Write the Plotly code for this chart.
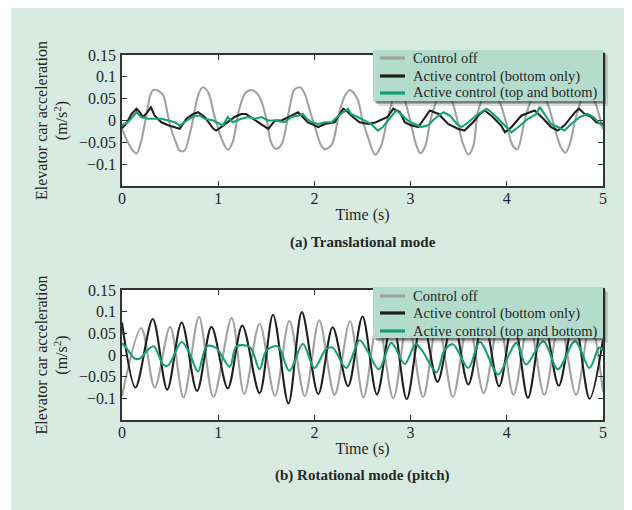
import plotly.graph_objects as go

# page body keeps its default 8 px margin, so the figure is sized to fill the rest of the window
OFF = 8
W, H = 632 - OFF, 510 - OFF

# ---------------- data ----------------
x_ticks = [0, 1, 2, 3, 4, 5]
y_ticks = [0.15, 0.1, 0.05, 0, -0.05, -0.1]
y_tick_text = ["0.15", "0.1", "0.05", "0", "\u22120.05", "\u22120.1"]
series_names = ["Control off", "Active control (bottom only)", "Active control (top and bottom)"]
captions = ["(a) Translational mode", "(b) Rotational mode (pitch)"]
x_title = "Time (s)"
y_title = "Elevator car acceleration<br>(m/s<sup>2</sup>)"

# (a) Translational mode: (time s, acceleration m/s^2)
a_off = [(0, -0.019), (0.05, -0.045), (0.1, -0.065), (0.15, -0.076), (0.19, -0.055), (0.22, -0.027),
         (0.26, 0.02), (0.29, 0.055), (0.32, 0.069), (0.36, 0.07), (0.39, 0.066), (0.43, 0.057),
         (0.47, 0.02), (0.5, -0.011), (0.56, -0.05), (0.6, -0.069), (0.65, -0.069), (0.7, -0.035),
         (0.74, 0.004), (0.79, 0.057), (0.84, 0.076), (0.88, 0.07), (0.91, 0.057), (0.95, 0.02),
         (0.98, -0.004), (1.05, -0.05), (1.1, -0.067), (1.15, -0.05), (1.22, 0.027), (1.29, 0.065),
         (1.36, 0.069), (1.43, 0.054), (1.5, 0.004), (1.55, -0.05), (1.6, -0.065), (1.66, -0.054),
         (1.74, 0.027), (1.79, 0.07), (1.85, 0.076), (1.9, 0.061), (1.95, 0.025), (2.0, -0.011),
         (2.07, -0.057), (2.11, -0.066), (2.18, -0.055), (2.26, 0.019), (2.32, 0.058), (2.37, 0.07),
         (2.45, 0.048), (2.5, 0.0), (2.56, -0.04), (2.63, -0.078), (2.69, -0.06), (2.76, 0.004),
         (2.82, 0.05), (2.88, 0.07), (2.94, 0.045), (3.0, -0.004), (3.05, -0.05), (3.1, -0.075),
         (3.15, -0.06), (3.21, 0.004), (3.28, 0.05), (3.36, 0.07), (3.43, 0.045), (3.49, -0.004),
         (3.54, -0.05), (3.6, -0.078), (3.65, -0.06), (3.7, 0.019), (3.77, 0.06), (3.85, 0.07),
         (3.93, 0.04), (4.0, -0.01), (4.06, -0.057), (4.11, -0.066), (4.19, 0.004), (4.27, 0.055),
         (4.35, 0.07), (4.43, 0.035), (4.5, -0.019), (4.56, -0.06), (4.61, -0.074), (4.66, -0.05),
         (4.71, 0.0), (4.78, 0.05), (4.85, 0.07), (4.92, 0.04), (5.0, -0.02)]

a_bottom = [(0, -0.018), (0.05, -0.005), (0.1, 0.015), (0.13, 0.022), (0.15, 0.027), (0.18, 0.02),
            (0.22, 0.008), (0.26, 0.018), (0.3, 0.03), (0.34, 0.011), (0.41, -0.004), (0.48, -0.011),
            (0.55, -0.015), (0.6, -0.019), (0.67, 0.004), (0.74, 0.015), (0.79, 0.019), (0.86, 0.008),
            (0.95, -0.019), (0.98, -0.023), (1.03, -0.015), (1.1, -0.004), (1.17, 0.008), (1.24, 0.015),
            (1.29, 0.015), (1.36, 0.004), (1.45, -0.008), (1.52, -0.019), (1.59, 0.0), (1.66, 0.0),
            (1.76, 0.011), (1.83, 0.019), (1.88, 0.008), (1.93, -0.004), (2.04, -0.015), (2.11, -0.008),
            (2.21, -0.004), (2.26, 0.015), (2.3, 0.027), (2.35, 0.019), (2.4, 0.008), (2.47, -0.004),
            (2.56, -0.008), (2.64, -0.004), (2.76, 0.008), (2.82, 0.027), (2.89, 0.019), (2.94, -0.004),
            (3.0, -0.011), (3.08, -0.015), (3.16, 0.011), (3.2, 0.023), (3.29, 0.015), (3.39, -0.008),
            (3.49, -0.019), (3.56, -0.023), (3.65, -0.004), (3.72, 0.015), (3.77, 0.023), (3.84, 0.011),
            (3.94, -0.011), (3.98, -0.027), (4.05, -0.015), (4.15, 0.011), (4.24, 0.019), (4.29, 0.023),
            (4.38, 0.004), (4.46, -0.015), (4.53, -0.023), (4.6, -0.011), (4.71, 0.019), (4.75, 0.027),
            (4.81, 0.015), (4.88, 0.008), (4.93, -0.004), (5.0, -0.008)]

a_top_bottom = [(0, -0.011), (0.06, -0.004), (0.11, 0.008), (0.15, 0.019), (0.2, 0.008), (0.27, 0.004),
                (0.34, 0.004), (0.41, 0.004), (0.48, 0.0), (0.55, -0.004), (0.6, -0.012), (0.65, -0.004),
                (0.7, 0.004), (0.76, 0.011), (0.81, 0.011), (0.86, 0.004), (0.95, 0.0), (1.02, -0.008),
                (1.05, -0.011), (1.1, 0.008), (1.15, -0.004), (1.24, 0.004), (1.31, 0.008), (1.38, 0.004),
                (1.45, 0.008), (1.52, 0.0), (1.59, 0.0), (1.69, -0.004), (1.76, 0.008), (1.83, 0.011),
                (1.88, 0.015), (1.92, 0.004), (1.97, -0.004), (2.04, -0.008), (2.11, -0.004), (2.18, -0.004),
                (2.25, 0.011), (2.35, 0.027), (2.38, 0.015), (2.45, 0.008), (2.52, 0.0), (2.59, -0.008),
                (2.66, -0.023), (2.71, -0.015), (2.78, 0.004), (2.85, 0.023), (2.9, 0.015), (2.97, 0.0),
                (3.04, -0.008), (3.11, -0.015), (3.18, -0.011), (3.25, 0.004), (3.34, 0.019), (3.41, 0.011),
                (3.48, -0.008), (3.53, -0.015), (3.6, -0.004), (3.68, 0.011), (3.79, 0.027), (3.84, 0.019),
                (3.91, 0.004), (3.99, -0.015), (4.05, -0.027), (4.12, -0.015), (4.22, 0.004), (4.31, 0.015),
                (4.34, 0.031), (4.39, 0.015), (4.46, -0.008), (4.53, -0.015), (4.6, -0.023), (4.67, -0.008),
                (4.76, 0.008), (4.84, 0.015), (4.9, 0.008), (4.97, -0.008), (5.0, -0.011)]

# (b) Rotational mode (pitch)
b_off = [(0, -0.095), (0.2, 0.062), (0.34, -0.075), (0.5, 0.065), (0.64, -0.098), (0.8, 0.088),
         (0.95, -0.097), (1.14, 0.085), (1.27, -0.09), (1.43, 0.072), (1.59, -0.094), (1.74, 0.079),
         (1.9, -0.095), (2.05, 0.08), (2.21, -0.092), (2.37, 0.078), (2.51, -0.098), (2.66, 0.08),
         (2.82, -0.1), (2.97, 0.08), (3.13, -0.097), (3.28, 0.08), (3.44, -0.097), (3.6, 0.08),
         (3.76, -0.088), (3.92, 0.08), (4.07, -0.092), (4.23, 0.08), (4.39, -0.092), (4.55, 0.08),
         (4.72, -0.092), (4.87, 0.08), (5.0, -0.085)]

b_bottom = [(0, 0.075), (0.14, -0.075), (0.32, 0.083), (0.47, -0.08), (0.62, 0.075), (0.78, -0.083),
            (0.93, 0.065), (1.1, -0.077), (1.25, 0.068), (1.43, -0.088), (1.57, 0.093), (1.73, -0.112),
            (1.87, 0.099), (2.04, -0.09), (2.19, 0.064), (2.35, -0.072), (2.5, 0.089), (2.65, -0.091),
            (2.81, 0.085), (2.96, -0.102), (3.12, 0.085), (3.28, -0.062), (3.44, 0.085), (3.6, -0.068),
            (3.76, 0.085), (3.92, -0.072), (4.07, 0.085), (4.22, -0.099), (4.38, 0.085), (4.54, -0.071),
            (4.7, 0.085), (4.86, -0.101), (5.0, 0.035)]

b_top_bottom = [(0, 0.027), (0.05, 0.015), (0.13, -0.008), (0.19, -0.008), (0.26, 0.01), (0.33, 0.02),
                (0.43, -0.023), (0.48, -0.024), (0.62, 0.03), (0.7, 0.005), (0.79, -0.038), (0.88, 0.02),
                (0.98, 0.016), (1.12, -0.027), (1.19, 0.02), (1.33, 0.018), (1.43, -0.033), (1.5, 0.01),
                (1.62, 0.02), (1.74, -0.037), (1.88, 0.026), (2.0, -0.03), (2.12, 0.013), (2.19, 0.017),
                (2.33, -0.03), (2.47, 0.034), (2.55, 0.01), (2.67, -0.033), (2.8, 0.028), (2.94, -0.021),
                (3.05, 0.025), (3.12, 0.01), (3.27, -0.04), (3.35, 0.01), (3.44, 0.025), (3.6, -0.03),
                (3.72, 0.03), (3.91, -0.045), (4.02, 0.0), (4.1, 0.028), (4.2, -0.022), (4.38, 0.032),
                (4.53, -0.033), (4.71, 0.032), (4.86, -0.03), (4.96, 0.017), (5.0, 0.01)]

# ---------------- styling ----------------
BG = "#d7ebe2"
LEGEND_BG = "#b3dccc"
AXIS = "#333333"
TEXT = "#262626"
FONT = "Liberation Serif"
colors = ["#a2a2a2", "#1f1f1f", "#14a274"]


def px_x(p):
    """window pixel column -> paper fraction"""
    return (p - OFF) / W


def px_y(p):
    """window pixel row -> paper fraction"""
    return 1 - (p - OFF) / H


fig = go.Figure()

panels = [
    dict(data=[a_off, a_bottom, a_top_bottom], x="x", y="y", shapes=["spline", "linear", "linear"]),
    dict(data=[b_off, b_bottom, b_top_bottom], x="x2", y="y2", shapes=["spline", "spline", "spline"]),
]
for p in panels:
    for name, series, col, shp in zip(series_names, p["data"], colors, p["shapes"]):
        t = [s[0] for s in series]
        v = [s[1] for s in series]
        line = dict(color=col, width=2.1, shape=shp)
        if shp == "spline":
            line["smoothing"] = 0.9
        fig.add_trace(go.Scatter(x=t, y=v, mode="lines", name=name, showlegend=False,
                                 line=line, xaxis=p["x"], yaxis=p["y"], hoverinfo="skip"))

plot_left, plot_right = 122, 603
panel_px = [(55, 186), (290, 420)]  # top, bottom pixel rows of each plot area

axis_common = dict(
    showline=True, linecolor=AXIS, linewidth=1.5, mirror="ticks",
    ticks="inside", ticklen=5, tickwidth=1.2, tickcolor=AXIS,
    showgrid=False, zeroline=False, automargin=False,
    tickfont=dict(family=FONT, size=16, color=TEXT),
)

layout = dict(
    width=W, height=H,
    margin=dict(l=0, r=0, t=0, b=0),
    paper_bgcolor=BG, plot_bgcolor="white",
    showlegend=False,
    font=dict(family=FONT, color=TEXT),
)
for i, (top, bot) in enumerate(panel_px):
    sfx = "" if i == 0 else "2"
    layout["xaxis" + sfx] = dict(axis_common, domain=[px_x(plot_left), px_x(plot_right)],
                                 anchor="y" + sfx, range=[0, 5], tickvals=x_ticks,
                                 ticklabelstandoff=-3,
                                 title=dict(text=x_title, standoff=3,
                                            font=dict(family=FONT, size=16, color=TEXT)))
    layout["yaxis" + sfx] = dict(axis_common, domain=[px_y(bot), px_y(top)],
                                 anchor="x" + sfx, range=[-0.15, 0.15],
                                 tickvals=y_ticks, ticktext=y_tick_text,
                                 ticklabelstandoff=1,
                                 title=dict(text=y_title, standoff=7,
                                            font=dict(family=FONT, size=16, color=TEXT)))
fig.update_layout(**layout)

shapes = []
annotations = []

# thin white left edge of the scanned panel (beyond the page margin)
shapes.append(dict(type="rect", xref="paper", yref="paper", x0=0, x1=px_x(11), y0=0, y1=1,
                   fillcolor="white", line=dict(width=0), layer="below"))

legend_boxes = [(373, 603, 50, 101), (373, 603, 287, 338)]
legend_rows = [(58, 76, 93), (296, 313, 331)]
caption_y = [242, 475]

for i in range(2):
    annotations.append(dict(text="<b>" + captions[i] + "</b>", xref="paper", yref="paper",
                            x=px_x((plot_left + plot_right) / 2), y=px_y(caption_y[i]),
                            showarrow=False, xanchor="center", yanchor="middle",
                            font=dict(family=FONT, size=15, color=TEXT)))

    # legend (box with drop shadow, key lines and labels)
    x0, x1, y0, y1 = legend_boxes[i]
    for off, op in [(5, 0.16), (3, 0.28), (2, 0.35)]:
        shapes.append(dict(type="rect", xref="paper", yref="paper",
                           x0=px_x(x0 + off), x1=px_x(x1 + off), y0=px_y(y1 + off), y1=px_y(y0 + off),
                           fillcolor="rgba(40,40,40,%g)" % op, line=dict(width=0), layer="above"))
    shapes.append(dict(type="rect", xref="paper", yref="paper",
                       x0=px_x(x0), x1=px_x(x1), y0=px_y(y1), y1=px_y(y0),
                       fillcolor=LEGEND_BG, line=dict(width=0), layer="above"))
    for name, col, ry in zip(series_names, colors, legend_rows[i]):
        shapes.append(dict(type="line", xref="paper", yref="paper",
                           x0=px_x(380), x1=px_x(405), y0=px_y(ry), y1=px_y(ry),
                           line=dict(color=col, width=3.2), layer="above"))
        annotations.append(dict(text=name, xref="paper", yref="paper", x=px_x(411), y=px_y(ry),
                                showarrow=False, xanchor="left", yanchor="middle",
                                font=dict(family=FONT, size=14.5, color=TEXT)))

fig.update_layout(shapes=shapes, annotations=annotations)
fig.write_html("out.html")
